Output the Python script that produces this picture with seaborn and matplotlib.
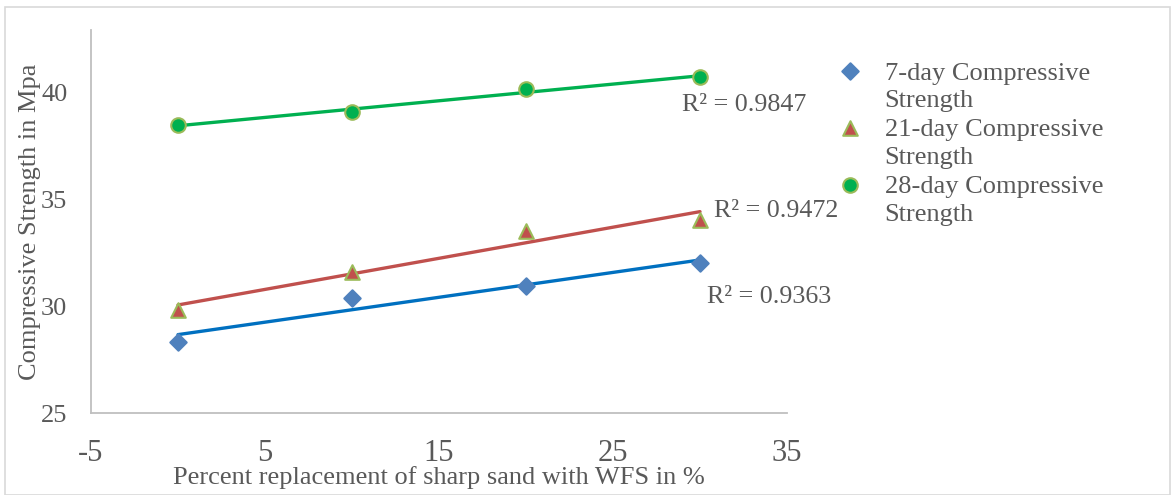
import matplotlib
matplotlib.use("Agg")
import matplotlib.pyplot as plt
import seaborn as sns
import numpy as np
import pandas as pd
from matplotlib.patches import Rectangle

sns.set_theme(style="white")
plt.rcParams['font.family'] = ['Liberation Serif', 'DejaVu Serif']

replacement = [0, 10, 20, 30]
day7 = [28.32, 30.37, 30.93, 32.01]
day21 = [29.81, 31.59, 33.50, 34.02]
day28 = [38.46, 39.07, 40.14, 40.70]
series_names = ["7-day Compressive\nStrength", "21-day Compressive\nStrength", "28-day Compressive\nStrength"]
r2_labels = ["R² = 0.9363", "R² = 0.9472", "R² = 0.9847"]
x_ticks = [-5, 5, 15, 25, 35]
y_ticks = [25, 30, 35, 40]

TXT = "#595959"
fig = plt.figure(figsize=(11.76, 4.95), dpi=100)
ax = fig.add_axes([91/1176, (495-413)/495, (787-91)/1176, (413-30)/495])

styles = [
    dict(marker="D", color="#4F81BD", edge="#4F81BD", line="#0070C0", s=70),
    dict(marker="^", color="#C0504D", edge="#9BBB59", line="#C0504D", s=110),
    dict(marker="o", color="#00B050", edge="#9BBB59", line="#00B050", s=110),
]
data = [day7, day21, day28]
for vals, name, st in zip(data, series_names, styles):
    df = pd.DataFrame({"x": replacement, "y": vals})
    sns.regplot(data=df, x="x", y="y", ax=ax, scatter=False, ci=None,
                line_kws=dict(color=st["line"], lw=2.4, zorder=2))
    sns.scatterplot(data=df, x="x", y="y", ax=ax, marker=st["marker"],
                    color=st["color"], edgecolor=st["edge"], linewidth=1.5,
                    s=st["s"], zorder=3, label=name)

ax.text(30.4, 30.42, r2_labels[0], fontsize=18.7, color=TXT, va="center")
ax.text(30.8, 34.44, r2_labels[1], fontsize=18.7, color=TXT, va="center")
ax.text(28.96, 39.39, r2_labels[2], fontsize=18.7, color=TXT, va="center")

ax.set_xlim(-5, 35)
ax.set_ylim(25, 42.9)
ax.set_xticks(x_ticks)
ax.set_xticklabels([str(v) for v in x_ticks])
ax.set_yticks(y_ticks)
ax.set_yticklabels([str(v) for v in y_ticks])
ax.tick_params(axis="x", labelsize=22, colors=TXT, pad=19, length=0)
ax.tick_params(axis="y", labelsize=19, colors=TXT, pad=17, length=0)
ax.set_xlabel("Percent replacement of sharp sand with WFS in %", fontsize=19, color=TXT, labelpad=-2)
ax.set_ylabel("Compressive Strength in Mpa", fontsize=19, color=TXT, labelpad=0)
for sp in ["top", "right"]:
    ax.spines[sp].set_visible(False)
for sp in ["left", "bottom"]:
    ax.spines[sp].set_color("#BFBFBF")
    ax.spines[sp].set_linewidth(1.3)
ax.grid(False)

h, l = ax.get_legend_handles_labels()
leg = ax.legend(h, l, loc="upper left", bbox_to_anchor=(824/1176, 1 - 52/495),
                bbox_transform=fig.transFigure, frameon=False, fontsize=19,
                labelcolor=TXT, handletextpad=0.7, labelspacing=0.27,
                borderaxespad=0, handlelength=1.2, scatteryoffsets=[1.35])
for t in leg.get_texts():
    t.set_linespacing(1.34)

fig.patches.append(Rectangle((5/1176, 0), 1165/1176, 1 - 7/495, transform=fig.transFigure,
                             fill=False, edgecolor="#D9D9D9", lw=1.2))
fig.savefig("out.png", dpi=100)
